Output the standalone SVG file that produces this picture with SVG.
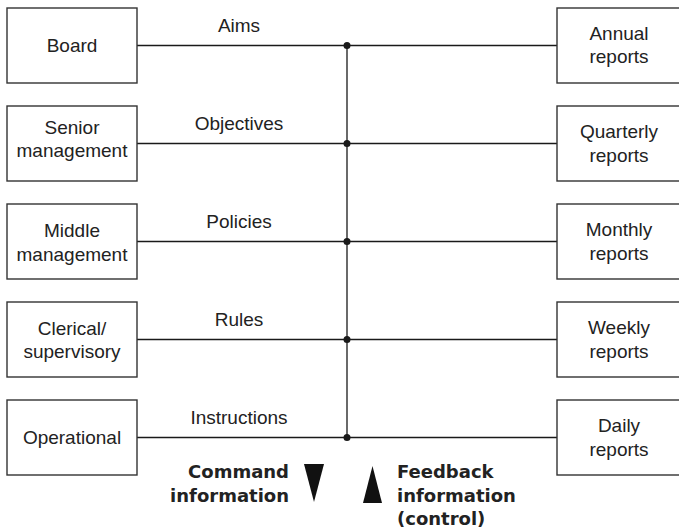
<svg xmlns="http://www.w3.org/2000/svg" width="679" height="532" viewBox="0 0 679 532">
<style>
.box{fill:#fff;stroke:#333;stroke-width:1.4}
.ln{stroke:#1a1a1a;stroke-width:1.3;fill:none}
.dot{fill:#1a1a1a}
.t{font-family:"Liberation Sans",Arial,sans-serif;font-size:19px;fill:#222;text-anchor:middle}
.b{font-family:"DejaVu Sans","Liberation Sans",sans-serif;font-weight:bold;font-size:18px;fill:#222}
.tri{fill:#111}
</style>
<rect width="679" height="532" fill="#fff"/>
<g id="connectors">
<line class="ln" x1="137" y1="45.5" x2="557" y2="45.5"/>
<line class="ln" x1="137" y1="143.5" x2="557" y2="143.5"/>
<line class="ln" x1="137" y1="241.5" x2="557" y2="241.5"/>
<line class="ln" x1="137" y1="339.5" x2="557" y2="339.5"/>
<line class="ln" x1="137" y1="437.5" x2="557" y2="437.5"/>
<line class="ln" x1="347" y1="45.5" x2="347" y2="437.5"/>
<circle class="dot" cx="347" cy="45.5" r="3.5"/>
<circle class="dot" cx="347" cy="143.5" r="3.5"/>
<circle class="dot" cx="347" cy="241.5" r="3.5"/>
<circle class="dot" cx="347" cy="339.5" r="3.5"/>
<circle class="dot" cx="347" cy="437.5" r="3.5"/>
<text class="t" x="239" y="32">Aims</text>
<text class="t" x="239" y="130">Objectives</text>
<text class="t" x="239" y="228">Policies</text>
<text class="t" x="239" y="326">Rules</text>
<text class="t" x="239" y="424">Instructions</text>
</g>
<g id="board"><rect class="box" x="7" y="8" width="130" height="75"/><text class="t" x="72" y="52">Board</text></g>
<g id="senior"><rect class="box" x="7" y="106" width="130" height="75"/><text class="t" x="72" y="134">Senior</text><text class="t" x="72" y="157">management</text></g>
<g id="middle"><rect class="box" x="7" y="204" width="130" height="75"/><text class="t" x="72" y="237">Middle</text><text class="t" x="72" y="261">management</text></g>
<g id="clerical"><rect class="box" x="7" y="302" width="130" height="75"/><text class="t" x="72" y="335">Clerical/</text><text class="t" x="72" y="358">supervisory</text></g>
<g id="operational"><rect class="box" x="7" y="400" width="130" height="75"/><text class="t" x="72" y="444">Operational</text></g>
<g id="annual"><rect class="box" x="557" y="8" width="140" height="75"/><text class="t" x="619" y="40">Annual</text><text class="t" x="619" y="63">reports</text></g>
<g id="quarterly"><rect class="box" x="557" y="106" width="140" height="75"/><text class="t" x="619" y="138">Quarterly</text><text class="t" x="619" y="162">reports</text></g>
<g id="monthly"><rect class="box" x="557" y="204" width="140" height="75"/><text class="t" x="619" y="236">Monthly</text><text class="t" x="619" y="260">reports</text></g>
<g id="weekly"><rect class="box" x="557" y="302" width="140" height="75"/><text class="t" x="619" y="334">Weekly</text><text class="t" x="619" y="358">reports</text></g>
<g id="daily"><rect class="box" x="557" y="400" width="140" height="75"/><text class="t" x="619" y="432">Daily</text><text class="t" x="619" y="456">reports</text></g>
<g id="command">
<polygon class="tri" points="304,464 324,464 314,502"/>
<text class="b" x="289" y="478" text-anchor="end">Command</text>
<text class="b" x="289" y="502" text-anchor="end">information</text>
</g>
<g id="feedback">
<polygon class="tri" points="363,503 382,503 372.5,466"/>
<text class="b" x="397" y="478">Feedback</text>
<text class="b" x="397" y="502">information</text>
<text class="b" x="397" y="525">(control)</text>
</g>
</svg>
